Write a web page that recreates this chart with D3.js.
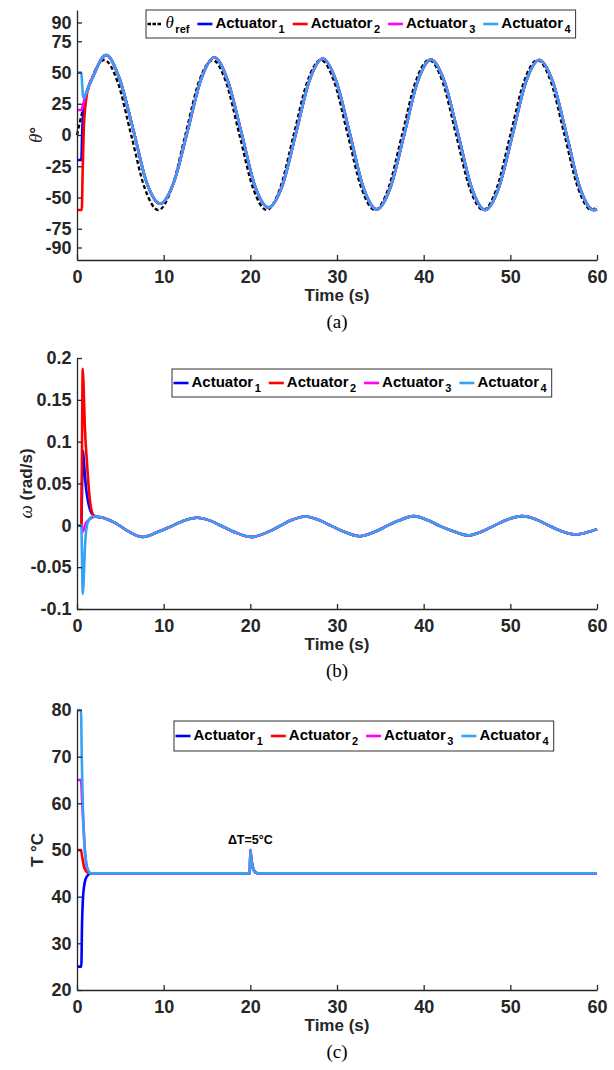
<!DOCTYPE html>
<html><head><meta charset="utf-8">
<script src="https://cdn.jsdelivr.net/npm/d3@7"></script>
<style>body{margin:0;background:#fff;} svg{display:block;}</style>
</head><body><svg id="c" width="614" height="1070"></svg>
<script>
// ---------- data ----------
const timeTicks = [0,10,20,30,40,50,60];
const thetaTicks = [-90,-75,-50,-25,0,25,50,75,90];
const omegaTicks = [-0.1,-0.05,0,0.05,0.1,0.15,0.2];
const tempTicks = [20,30,40,50,60,70,80];
const actuatorSubs = ["1","2","3","4"];
const actuatorColors = ["#0000FF","#FF0000","#FF00FF","#35A2F4"];

// (a) reference angle
const refT = [0,1.56,3.13,4.69,6.25,7.81,9.38,10.94,12.5,14.06,15.63,17.19,18.75,20.31,21.88,23.44,25,26.56,28.13,29.69,31.25,32.81,34.38,35.94,37.5,39.06,40.63,42.19,43.75,45.31,46.88,48.44,50,51.56,53.13,54.69,56.25,57.81,59.38,60];
const refV = [0,42.4,60,42.4,0,-42.4,-60,-42.4, 0,42.4,60,42.4,0,-42.4,-60,-42.4, 0,42.4,60,42.4,0,-42.4,-60,-42.4, 0,42.4,60,42.4,0,-42.4,-60,-42.4, 0,42.4,60,42.4,0,-42.4,-60,-57.1];
// (a) actuator angle: start transients + common tail
const thetaHeadT = [[0,0.5,0.6,0.7,0.85,1.05],[0,0.55,0.65,0.78,0.95,1.15],[0,0.5,0.7,0.9,1.1],[0,0.5,0.6,0.7,0.8,0.95,1.15]];
const thetaHeadV = [[-20,-20,2,17,27,33],[-60,-60,-30,5,22,33],[20,20,24,29,34],[50,50,40,31,29.5,31.5,35]];
const thetaTailT = [1.3,1.8,3.35,4.91,6.5,8.04,9.6,11.16,12.75,14.29,15.85,17.41,19.0,20.54,22.1,23.66,25.25,26.79,28.35,29.91,31.5,33.04,34.6,36.16,37.75,39.29,40.85,42.41,44.0,45.54,47.1,48.66,50.25,51.79,53.35,54.91,56.5,58.04,59.6,60];
const thetaTailV = [38,46,64,45,4,-38,-55,-38,3,44,62,43,1,-41,-58,-41,1,43,61,43,0.5,-42,-59.5,-42,0.3,42.5,60.3,42.5,0,-42.4,-60,-42.4,0,42.4,60,42.4,0,-42.4,-60,-59.5];
// (b) angular speed
const omegaHeadT = [[0,0.5,0.6,0.69,0.8,0.95,1.07,1.3,1.53,1.9],[0,0.5,0.58,0.66,0.75,0.9,1.15,1.45,1.9],[0,0.5,0.65,0.8,1.0,1.3,1.7],[0,0.5,0.58,0.66,0.75,0.88,1.0,1.15,1.4,1.8]];
const omegaHeadV = [[0,0,0.055,0.089,0.075,0.055,0.042,0.027,0.018,0.012],[0,0,0.1,0.187,0.17,0.12,0.075,0.034,0.012],[0,0,-0.008,-0.004,0.002,0.006,0.009],[0,0,-0.04,-0.082,-0.07,-0.035,-0.012,0,0.007,0.0105]];
const omegaTailT = [2.2,3.0,4.4,5.9,7.6,9.3,10.7,12.2,13.85,15.5,16.9,18.4,20.1,21.8,23.2,24.7,26.35,28.0,29.4,30.9,32.6,34.3,35.7,37.2,38.85,40.5,41.9,43.4,45.1,46.8,48.2,49.7,51.35,53.0,54.4,55.9,57.6,59.3,60];
const omegaTailV = [0.0105,0.009,0.003,-0.007,-0.014,-0.008,-0.002,0.005,0.009,0.005,-0.002,-0.009,-0.014,-0.009,-0.002,0.006,0.0105,0.006,-0.001,-0.008,-0.013,-0.008,-0.001,0.006,0.011,0.006,-0.001,-0.007,-0.012,-0.007,0,0.007,0.011,0.007,0,-0.007,-0.011,-0.007,-0.0045];
// (c) temperature
const tempHeadT = [[0,0.5,0.58,0.7,0.8,1.0,1.3],[0,0.46,0.6,0.8,1.0,1.35],[0,0.46,0.6,0.75,0.95,1.2],[0,0.46,0.55,0.65,0.75,0.95,1.2]];
const tempHeadV = [[25,25,34,40,42,43.8,44.7],[50,50,48.5,46.5,45.6,45.05],[65,65,60,55,49,46],[80,80,70,61,55,49,46]];
const tempTailT = [1.6,19.95,20.0,20.1,20.25,20.45,20.7,21.0,60];
const tempTailV = [45,45,50,48.2,46.5,45.5,45.1,45,45];

// ---------- drawing ----------
const SANS = '"Liberation Sans", Arial, Helvetica, sans-serif';
const SERIF = '"Liberation Serif", "Times New Roman", serif';
const AX = "#262626";
const svg = d3.select("#c");
const x = d3.scaleLinear().domain([0,60]).range([77,597]);
const zip = (t,v) => t.map((d,i)=>[d, v[i]]);

function drawPanel(cfg){
  const y = d3.scaleLinear().domain(cfg.domain).range([cfg.bot, cfg.top]);
  const g = svg.append("g");
  const line = d3.line().x(d=>x(d[0])).y(d=>y(d[1])).curve(d3.curveMonotoneX);

  cfg.series.forEach(s=>{
    g.append("path").datum(s.data).attr("fill","none").attr("stroke",s.color)
      .attr("stroke-width",s.width||2.6).attr("stroke-linejoin","round")
      .attr("stroke-dasharray",s.dash||null).attr("d",line);
  });

  const xa = g.append("g").attr("transform",`translate(0,${cfg.bot})`)
    .call(d3.axisBottom(x).tickValues(timeTicks).tickSize(-5).tickSizeOuter(0).tickPadding(10.5).tickFormat(String));
  const ya = g.append("g").attr("transform",`translate(${x(0)},0)`)
    .call(d3.axisLeft(y).tickValues(cfg.ticks).tickSize(-5).tickSizeOuter(0).tickPadding(5.5).tickFormat(String));
  [xa,ya].forEach(a=>{
    a.selectAll("path,line").attr("stroke",AX).attr("stroke-width",1.3);
    a.selectAll("text").attr("fill",AX).attr("font-family",SANS).attr("font-size",18).attr("font-weight","bold");
  });

  g.append("text").attr("x",337).attr("y",cfg.bot+41).attr("text-anchor","middle")
    .attr("font-family",SANS).attr("font-size",17).attr("font-weight","bold").attr("fill",AX).text("Time (s)");
  g.append("text").attr("x",337).attr("y",cfg.bot+68).attr("text-anchor","middle")
    .attr("font-family",SERIF).attr("font-size",19).attr("fill","#000").text(cfg.caption);

  const yl = g.append("text").attr("transform",`translate(${cfg.ylx},${(cfg.top+cfg.bot)/2}) rotate(-90)`)
    .attr("text-anchor","middle").attr("font-family",SANS).attr("font-size",17).attr("font-weight","bold").attr("fill",AX);
  cfg.ylabel.forEach(p=>{
    const ts = yl.append("tspan").text(p.t);
    if(p.it){ ts.attr("font-style","italic").attr("font-family",SERIF).attr("font-weight","normal").attr("font-size",19); }
  });

  // legend
  const lg = g.append("g");
  const box = lg.append("rect").attr("x",cfg.leg.x).attr("y",cfg.leg.y).attr("height",cfg.leg.h)
    .attr("fill","#fff").attr("stroke","#333").attr("stroke-width",1);
  const cy = cfg.leg.y + cfg.leg.h/2;
  let cx = cfg.leg.x + 1.5;
  cfg.leg.items.forEach(it=>{
    lg.append("line").attr("x1",cx).attr("x2",cx+15).attr("y1",cy).attr("y2",cy)
      .attr("stroke",it.color).attr("stroke-width",2.6).attr("stroke-dasharray",it.dash||null);
    cx += 18;
    const t = lg.append("text").attr("x",cx).attr("y",cy+3.5).attr("font-family",SANS)
      .attr("font-size",15).attr("font-weight","bold").attr("fill","#000");
    const m = t.append("tspan").text(it.main);
    if(it.it){ m.attr("font-family",SERIF).attr("font-style","italic").attr("font-weight","normal").attr("font-size",17); }
    t.append("tspan").attr("dy",5.5).attr("dx",1.5).attr("font-size",11).text(it.sub);
    cx += t.node().getComputedTextLength() + 1.5 + 8;
  });
  box.attr("width", cx - 8 + 5 - cfg.leg.x);

  if(cfg.annot){
    g.append("text").attr("x",x(cfg.annot.t)).attr("y",y(cfg.annot.v)).attr("text-anchor","middle")
      .attr("font-family",SANS).attr("font-size",12.5).attr("font-weight","bold").attr("fill","#000").text(cfg.annot.text);
  }
}

const actLegend = actuatorSubs.map((s,i)=>({main:"Actuator", sub:s, color:actuatorColors[i]}));

drawPanel({
  domain:[-100,100], top:10, bot:260, ticks:thetaTicks, caption:"(a)", ylx:42,
  ylabel:[{t:"θ",it:true},{t:"°"}],
  series:[{data:zip(refT,refV), color:"#000", dash:"4,2.5", width:2.3}]
    .concat(actuatorColors.map((c,i)=>({data:zip(thetaHeadT[i],thetaHeadV[i]).concat(zip(thetaTailT,thetaTailV)), color:c}))),
  leg:{x:146, y:10, h:28, items:[{main:"θ", it:true, sub:"ref", color:"#000", dash:"3.5,1.5"}].concat(actLegend)}
});
drawPanel({
  domain:[-0.1,0.2], top:358, bot:609, ticks:omegaTicks, caption:"(b)", ylx:32,
  ylabel:[{t:"ω",it:true},{t:" (rad/s)"}],
  series:actuatorColors.map((c,i)=>({data:zip(omegaHeadT[i],omegaHeadV[i]).concat(zip(omegaTailT,omegaTailV)), color:c})),
  leg:{x:172, y:369, h:28, items:actLegend}
});
drawPanel({
  domain:[20,80], top:710, bot:990, ticks:tempTicks, caption:"(c)", ylx:43,
  ylabel:[{t:"T °C"}],
  series:actuatorColors.map((c,i)=>({data:zip(tempHeadT[i],tempHeadV[i]).concat(zip(tempTailT,tempTailV)), color:c})),
  leg:{x:174, y:721, h:30, items:actLegend},
  annot:{t:20, v:51.3, text:"ΔT=5°C"}
});
</script></body></html>
